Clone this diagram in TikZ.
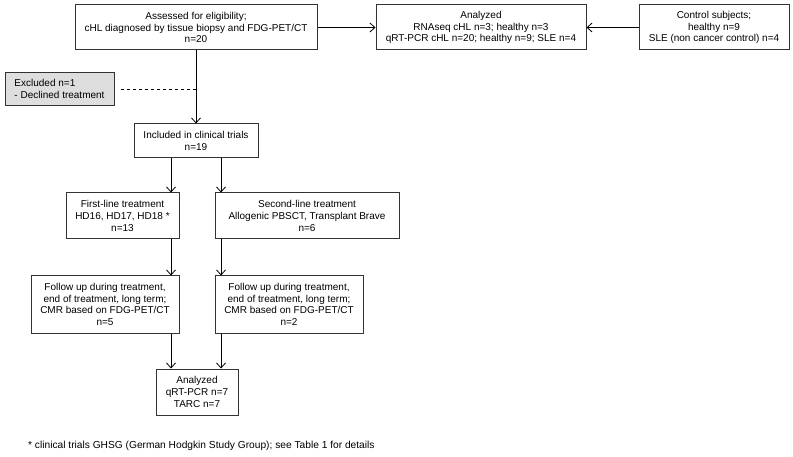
\documentclass[tikz,border=0pt]{standalone}
\usepackage{fontspec}
\setmainfont{Liberation Sans}
\usetikzlibrary{arrows.meta}

\tikzset{
  box/.style={rectangle, draw=black!80, line width=1pt, align=center, inner sep=1pt,
    font=\fontsize{10}{11.7}\selectfont},
  arr/.style={line width=0.8pt, -{Straight Barb[length=5pt, width=9pt]}}
}

\begin{document}
\begin{tikzpicture}[x=1pt, y=-1pt]

\useasboundingbox (0, 0) rectangle (793, 457);

\node[box, minimum width=242, minimum height=45] (assess) at (196, 27.5)
  {Assessed for eligibility;\\cHL diagnosed by tissue biopsy and FDG-PET/CT\\n=20};
\node[box, minimum width=210, minimum height=45] (anatop) at (481, 27.5)
  {Analyzed\\RNAseq cHL n=3; healthy n=3\\qRT-PCR cHL n=20; healthy n=9; SLE n=4};
\node[box, minimum width=150, minimum height=45] (control) at (714, 27.5)
  {Control subjects;\\healthy n=9\\SLE (non cancer control) n=4};

\node[box, fill=black!13, align=left, minimum width=109, minimum height=33] (excl) at (59.5, 89)
  {Excluded n=1\\- Declined treatment};

\node[box, minimum width=124, minimum height=34] (incl) at (196, 141)
  {Included in clinical trials\\n=19};

\node[box, minimum width=113, minimum height=46] (first) at (122.5, 216)
  {First-line treatment\\HD16, HD17, HD18 *\\n=13};
\node[box, minimum width=184, minimum height=46] (second) at (307, 216)
  {Second-line treatment\\Allogenic PBSCT, Transplant Brave\\n=6};

\node[box, minimum width=148, minimum height=57] (follow1) at (105, 304.5)
  {Follow up during treatment,\\end of treatment, long term;\\CMR based on FDG-PET/CT\\n=5};
\node[box, minimum width=148, minimum height=57] (follow2) at (289, 304.5)
  {Follow up during treatment,\\end of treatment, long term;\\CMR based on FDG-PET/CT\\n=2};

\node[box, minimum width=82, minimum height=46] (anabot) at (197, 392)
  {Analyzed\\qRT-PCR n=7\\TARC n=7};

\node[anchor=west, inner sep=0pt, font=\fontsize{10.2}{12}\selectfont] (note) at (28, 446)
  {* clinical trials GHSG (German Hodgkin Study Group); see Table 1 for details};

\coordinate (lcol) at (171, 0);
\coordinate (rcol) at (221, 0);

\draw[arr] (assess.east) -- (anatop.west);
\draw[arr] (control.west) -- (anatop.east);
\draw[arr] (assess.south) -- (incl.north);
\draw[line width=0.8pt, dashed] ([xshift=6pt]excl.east) -- (excl.east -| assess.south);

\draw[arr] (incl.south -| lcol) -- (first.north -| lcol);
\draw[arr] (incl.south -| rcol) -- (second.north -| rcol);
\draw[arr] (first.south -| lcol) -- (follow1.north -| lcol);
\draw[arr] (second.south -| rcol) -- (follow2.north -| rcol);
\draw[arr] (follow1.south -| lcol) -- (anabot.north -| lcol);
\draw[arr] (follow2.south -| rcol) -- (anabot.north -| rcol);

\end{tikzpicture}
\end{document}
